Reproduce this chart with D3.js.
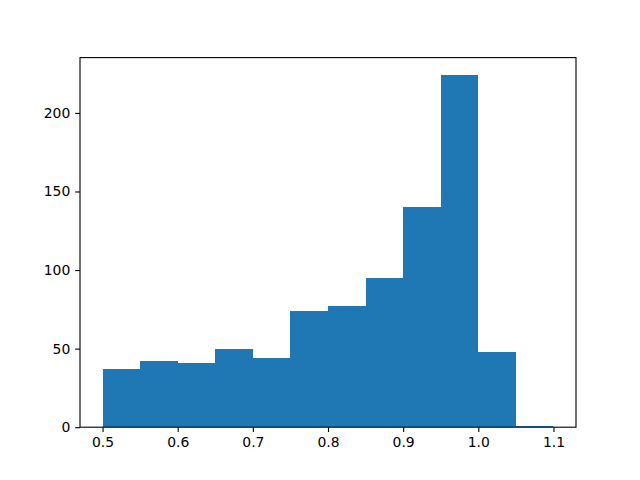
<!DOCTYPE html>
<html>
<head>
<meta charset="utf-8">
<script src="https://cdn.jsdelivr.net/npm/d3@7"></script>
<style>
body { margin: 0; background: #fff; }
svg { display: block; }
text { font-family: "DejaVu Sans", sans-serif; font-size: 13.9px; fill: #000; }
</style>
</head>
<body>
<svg id="chart" width="640" height="480"></svg>
<script>
const binEdges = [0.50, 0.55, 0.60, 0.65, 0.70, 0.75, 0.80, 0.85, 0.90, 0.95, 1.00, 1.05, 1.10];
const counts = [37, 42, 41, 50, 44, 74, 77, 95, 140, 224, 48, 1];
const xTicks = [0.5, 0.6, 0.7, 0.8, 0.9, 1.0, 1.1];
const yTicks = [0, 50, 100, 150, 200];

(function () {
const W = 640, H = 480;
const mLeft = 80, mRight = 576, mTop = 57.6, mBottom = 427.2;
const svg = d3.select("#chart");
svg.append("rect").attr("width", W).attr("height", H).attr("fill", "#fff");

const xMin = binEdges[0], xMax = binEdges[binEdges.length - 1];
const pad = (xMax - xMin) * 0.05;
const x = d3.scaleLinear().domain([xMin - pad, xMax + pad]).range([mLeft, mRight]);
const y = d3.scaleLinear().domain([0, d3.max(counts) * 1.05]).range([mBottom, mTop]);

const bins = counts.map((c, i) => ({ x0: binEdges[i], x1: binEdges[i + 1], c }));
svg.append("g").selectAll("rect").data(bins).join("rect")
  .attr("x", d => x(d.x0))
  .attr("width", d => x(d.x1) - x(d.x0))
  .attr("y", d => y(d.c))
  .attr("height", d => y(0) - y(d.c))
  .attr("fill", "#1f77b4")
  .attr("shape-rendering", "crispEdges");

const fs = "13.9px";
const xAxis = d3.axisBottom(x).tickValues(xTicks).tickSize(4.86).tickPadding(4.86).tickFormat(d3.format(".1f"));
const gx = svg.append("g").attr("transform", `translate(0,${mBottom})`).call(xAxis);
gx.select(".domain").remove();
gx.selectAll("line").attr("stroke", "#000").attr("stroke-width", 1.1);
gx.selectAll("text").style("font-family", "DejaVu Sans").style("font-size", fs).attr("fill", "#000");

const yAxis = d3.axisLeft(y).tickValues(yTicks).tickSize(4.86).tickPadding(4.86).tickFormat(d3.format("d"));
const gy = svg.append("g").attr("transform", `translate(${mLeft},0)`).call(yAxis);
gy.select(".domain").remove();
gy.selectAll("line").attr("stroke", "#000").attr("stroke-width", 1.1);
gy.selectAll("text").style("font-family", "DejaVu Sans").style("font-size", fs).attr("fill", "#000");

svg.append("rect").attr("x", mLeft).attr("y", mTop).attr("width", mRight - mLeft).attr("height", mBottom - mTop)
  .attr("fill", "none").attr("stroke", "#000").attr("stroke-width", 1.1);
})();
</script>
</body>
</html>
